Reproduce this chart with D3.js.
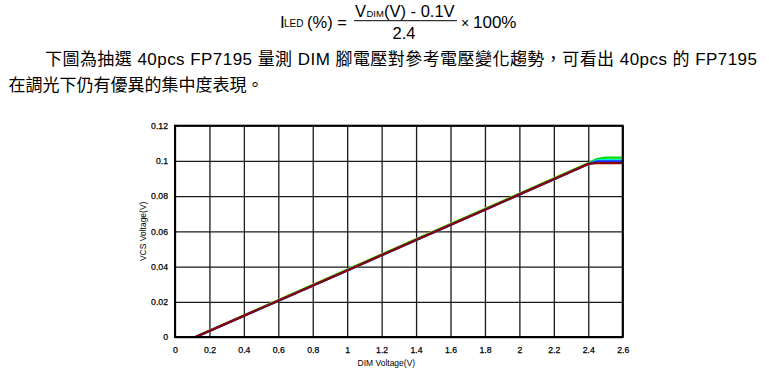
<!DOCTYPE html>
<html>
<head>
<meta charset="utf-8">
<script src="https://d3js.org/d3.v7.min.js"></script>
<style>
  body { margin: 0; background: #fff; }
  svg text { font-family: "Liberation Sans", Arial, "Noto Sans CJK TC", sans-serif; }
</style>
</head>
<body>
<div id="chart"></div>
<script>
// tick values and labels
var xTicks = [0, 0.2, 0.4, 0.6, 0.8, 1, 1.2, 1.4, 1.6, 1.8, 2, 2.2, 2.4, 2.6];
var xTickLabels = ["0", "0.2", "0.4", "0.6", "0.8", "1", "1.2", "1.4", "1.6", "1.8", "2", "2.2", "2.4", "2.6"];
var yTicks = [0, 0.02, 0.04, 0.06, 0.08, 0.1, 0.12];
var yTickLabels = ["0", "0.02", "0.04", "0.06", "0.08", "0.1", "0.12"];

// DIM voltage sample points (V) shared by every sample curve
var dimVoltage = [0.12, 0.6, 1.0, 1.4, 1.8, 2.2, 2.4, 2.45, 2.5, 2.6];

// VCS voltage (V) of a few of the 40 samples
var vcsWhite   = [0.0000, 0.0206, 0.0379, 0.0552, 0.0724, 0.0897, 0.0985, 0.1008, 0.1012, 0.1012];
var vcsYellow  = [0.0003, 0.0210, 0.0383, 0.0556, 0.0728, 0.0901, 0.0987, 0.1006, 0.1008, 0.1008];
var vcsGreen   = [0.0001, 0.0209, 0.0382, 0.0555, 0.0727, 0.0900, 0.0987, 0.1010, 0.1019, 0.1019];
var vcsMagenta = [0.0000, 0.0206, 0.0378, 0.0551, 0.0723, 0.0896, 0.0982, 0.0994, 0.0994, 0.0994];
var vcsCyan    = [0.0000, 0.0205, 0.0377, 0.0550, 0.0722, 0.0895, 0.0982, 0.1003, 0.1004, 0.1004];
var vcsBlue    = [0.0000, 0.0206, 0.0378, 0.0551, 0.0723, 0.0896, 0.0983, 0.0998, 0.0998, 0.0998];
var vcsDarkRed = [0.0000, 0.0206, 0.0378, 0.0551, 0.0723, 0.0896, 0.0983, 0.0987, 0.0987, 0.0987];

var series = [
  { color: "#ffffff", values: vcsWhite },
  { color: "#f0e000", values: vcsYellow },
  { color: "#00e000", values: vcsGreen },
  { color: "#e000e0", values: vcsMagenta },
  { color: "#00e8f0", values: vcsCyan },
  { color: "#2030ff", values: vcsBlue },
  { color: "#8b0000", values: vcsDarkRed }
];

var svgWidth = 769;
var svgHeight = 381;

// plot box in page pixels
var plot = { left: 175, right: 622.7, top: 125.7, bottom: 337 };

var svg = d3.select("#chart").append("svg")
    .attr("width", svgWidth)
    .attr("height", svgHeight);

// ---- formula ----
var formula = svg.append("g").attr("fill", "#000");

formula.append("text").attr("x", 280).attr("y", 27.5).attr("font-size", 17).text("I");
formula.append("text").attr("x", 284).attr("y", 27).attr("font-size", 10).text("LED");
formula.append("text").attr("x", 307).attr("y", 27.5).attr("font-size", 16.5).text("(%) =");

formula.append("text").attr("x", 355).attr("y", 16.7).attr("font-size", 16.5).text("V");
formula.append("text").attr("x", 366.5).attr("y", 16.7).attr("font-size", 9.5).text("DIM");
formula.append("text").attr("x", 384).attr("y", 16.7).attr("font-size", 16.5).text("(V) - 0.1V");

formula.append("line")
    .attr("x1", 354).attr("x2", 457)
    .attr("y1", 20.7).attr("y2", 20.7)
    .attr("stroke", "#000").attr("stroke-width", 1);

formula.append("text").attr("x", 392.5).attr("y", 38.5).attr("font-size", 16.5).text("2.4");
formula.append("text").attr("x", 461).attr("y", 28.3).attr("font-size", 14).text("×");
formula.append("text").attr("x", 473).attr("y", 28.3).attr("font-size", 17).text("100%");

// ---- paragraph ----
svg.append("text")
    .attr("x", 45).attr("y", 64.5)
    .attr("font-size", 17)
    .attr("textLength", 712)
    .attr("lengthAdjust", "spacing")
    .text("下圖為抽選 40pcs  FP7195 量測 DIM 腳電壓對參考電壓變化趨勢，可看出 40pcs 的 FP7195");

svg.append("text")
    .attr("x", 8.5).attr("y", 91)
    .attr("font-size", 17)
    .text("在調光下仍有優異的集中度表現。");

// ---- chart ----
var xScale = d3.scaleLinear().domain([0, 2.6]).range([plot.left, plot.right]);
var yScale = d3.scaleLinear().domain([0, 0.12]).range([plot.bottom, plot.top]);

var xAxis = svg.append("g")
    .attr("transform", `translate(0, ${plot.bottom})`)
    .call(d3.axisBottom(xScale)
        .tickValues(xTicks)
        .tickSize(-(plot.bottom - plot.top))
        .tickPadding(10)
        .tickFormat((d, i) => xTickLabels[i]));

var yAxis = svg.append("g")
    .attr("transform", `translate(${plot.left}, 0)`)
    .call(d3.axisLeft(yScale)
        .tickValues(yTicks)
        .tickSize(-(plot.right - plot.left))
        .tickPadding(7)
        .tickFormat((d, i) => yTickLabels[i]));

[xAxis, yAxis].forEach(function(ax) {
  ax.select(".domain").remove();
  ax.selectAll(".tick line").attr("stroke", "#1a1a1a").attr("stroke-width", 1.3);
  ax.selectAll(".tick text")
      .attr("font-size", 8.7)
      .attr("fill", "#000")
      .attr("stroke", "#000")
      .attr("stroke-width", 0.25)
      .style("font-family", "'Liberation Sans', Arial, sans-serif");
});

var line = d3.line()
    .x((d, i) => xScale(dimVoltage[i]))
    .y(d => yScale(d));

svg.append("g").selectAll("path")
    .data(series)
    .enter()
    .append("path")
    .attr("d", d => line(d.values))
    .attr("fill", "none")
    .attr("stroke", d => d.color)
    .attr("stroke-width", 2.2);

svg.append("rect")
    .attr("x", plot.left).attr("y", plot.top)
    .attr("width", plot.right - plot.left).attr("height", plot.bottom - plot.top)
    .attr("fill", "none")
    .attr("stroke", "#000")
    .attr("stroke-width", 2);

svg.append("text")
    .attr("x", (plot.left + plot.right) / 2 - 12.5)
    .attr("y", 366)
    .attr("text-anchor", "middle")
    .attr("font-size", 8.5)
    .text("DIM Voltage(V)");

svg.append("text")
    .attr("transform", `translate(146, ${(plot.top + plot.bottom) / 2}) rotate(-90)`)
    .attr("text-anchor", "middle")
    .attr("font-size", 8.5)
    .text("VCS Voltage(V)");
</script>
</body>
</html>
